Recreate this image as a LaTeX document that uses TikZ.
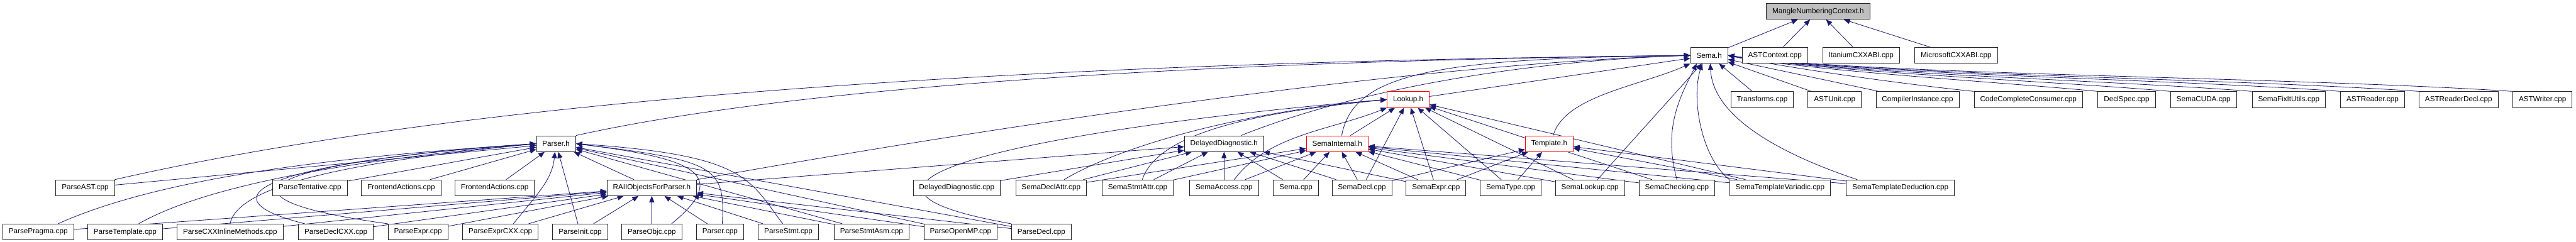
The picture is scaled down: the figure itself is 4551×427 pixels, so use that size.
\documentclass[tikz,border=0pt]{standalone}
\usepackage{fontspec}
\setmainfont{Liberation Sans}
\usetikzlibrary{arrows.meta,backgrounds}
\definecolor{incBlue}{RGB}{25,25,112}
\definecolor{rootGray}{RGB}{191,191,191}

\begin{document}
\begin{tikzpicture}[x=1pt,y=-1pt,
		file/.style={draw=black!85,line width=1pt,fill=white,font=\fontsize{13}{15}\selectfont,inner xsep=10.5pt,inner ysep=0pt,minimum height=28pt},
		redFile/.style={file,draw=red},
		inc/.style={draw=incBlue,line width=0.9pt,-{Triangle[length=11pt,width=9pt]}}]
		\useasboundingbox (0,0) rectangle (4551,427);
		
		% top of the graph
		\node[file,fill=rootGray] (mangle) at (3212,20) {MangleNumberingContext.h};
		\node[file] (semaH) at (3019.5,98) {Sema.h};
		\node[file] (astContext) at (3135.7,98) {ASTContext.cpp};
		\node[file] (itanium) at (3287.9,98) {ItaniumCXXABI.cpp};
		\node[file] (microsoft) at (3455.8,98) {MicrosoftCXXABI.cpp};
		
		% second row
		\node[redFile] (lookupH) at (2487.8,176) {Lookup.h};
		\node[file] (transforms) at (3113.2,176) {Transforms.cpp};
		\node[file] (astUnit) at (3241.2,176) {ASTUnit.cpp};
		\node[file] (compInst) at (3387.7,176) {CompilerInstance.cpp};
		\node[file] (codeCompl) at (3583.5,176) {CodeCompleteConsumer.cpp};
		\node[file] (declSpec) at (3757,176) {DeclSpec.cpp};
		\node[file] (semaCuda) at (3892.9,176) {SemaCUDA.cpp};
		\node[file] (fixIt) at (4043.5,176) {SemaFixItUtils.cpp};
		\node[file] (astReader) at (4191.5,176) {ASTReader.cpp};
		\node[file] (astReaderDecl) at (4343.5,176) {ASTReaderDecl.cpp};
		\node[file] (astWriter) at (4491.7,176) {ASTWriter.cpp};
		
		% headers
		\node[file] (parserH) at (982.4,254) {Parser.h};
		\node[file] (delayedH) at (2162.5,254) {DelayedDiagnostic.h};
		\node[redFile] (semaIntH) at (2362.4,254) {SemaInternal.h};
		\node[redFile] (templateH) at (2737,254) {Template.h};
		
		% fourth row
		\node[file] (parseAst) at (150.5,332) {ParseAST.cpp};
		\node[file] (tentative) at (547.5,332) {ParseTentative.cpp};
		\node[file] (frontA) at (708.8,332) {FrontendActions.cpp};
		\node[file] (frontB) at (874,332) {FrontendActions.cpp};
		\node[file] (raiiH) at (1151.5,332) {RAIIObjectsForParser.h};
		\node[file] (delayedCpp) at (1690.3,332) {DelayedDiagnostic.cpp};
		\node[file] (declAttr) at (1856.9,332) {SemaDeclAttr.cpp};
		\node[file] (stmtAttr) at (2010,332) {SemaStmtAttr.cpp};
		\node[file] (access) at (2162.5,332) {SemaAccess.cpp};
		\node[file] (semaCpp) at (2289.5,332) {Sema.cpp};
		\node[file] (semaDecl) at (2406,332) {SemaDecl.cpp};
		\node[file] (semaExpr) at (2537,332) {SemaExpr.cpp};
		\node[file] (semaType) at (2669,332) {SemaType.cpp};
		\node[file] (semaLookup) at (2809,332) {SemaLookup.cpp};
		\node[file] (checking) at (2962.6,332) {SemaChecking.cpp};
		\node[file] (variadic) at (3144.8,332) {SemaTemplateVariadic.cpp};
		\node[file] (deduction) at (3357.3,332) {SemaTemplateDeduction.cpp};
		
		% bottom row
		\node[file] (pragma) at (67.5,410) {ParsePragma.cpp};
		\node[file] (pTemplate) at (221,410) {ParseTemplate.cpp};
		\node[file] (cxxInline) at (406.5,410) {ParseCXXInlineMethods.cpp};
		\node[file] (declCxx) at (593.5,410) {ParseDeclCXX.cpp};
		\node[file] (pExpr) at (738.4,410) {ParseExpr.cpp};
		\node[file] (exprCxx) at (884,410) {ParseExprCXX.cpp};
		\node[file] (pInit) at (1025,410) {ParseInit.cpp};
		\node[file] (pObjc) at (1151.5,410) {ParseObjc.cpp};
		\node[file] (parserCpp) at (1272,410) {Parser.cpp};
		\node[file] (pStmt) at (1392.8,410) {ParseStmt.cpp};
		\node[file] (stmtAsm) at (1539.8,410) {ParseStmtAsm.cpp};
		\node[file] (openMp) at (1697,410) {ParseOpenMP.cpp};
		\node[file] (pDecl) at (1839.8,410) {ParseDecl.cpp};
		
		\begin{scope}[on background layer]
			% into MangleNumberingContext.h
			\draw[inc] (semaH) -- (mangle);\draw[inc] (astContext) -- (mangle);
			\draw[inc] (itanium) -- (mangle);\draw[inc] (microsoft) -- (mangle);
			
			% into Sema.h
			\draw[inc] (lookupH) -- (semaH);
			\draw[inc] (parserH.north east) .. controls +(450,-100) and +(-700,8) .. (semaH.west);
			\draw[inc] (parseAst.north east) .. controls +(700,-160) and +(-1000,10) .. (semaH.west);
			\draw[inc] (raiiH.north east) .. controls +(500,-90) and +(-500,15) .. (semaH.west);
			\draw[inc] ([xshift=30pt]delayedH.north) .. controls +(200,-80) and +(-300,10) .. (semaH.west);
			\draw[inc] ([xshift=8pt]semaIntH.north) .. controls +(20,-110) and +(-450,5) .. (semaH.west);
			\draw[inc] ([xshift=7pt]templateH.north) .. controls +(20,-70) and +(-90,40) .. (semaH.south west);
			\draw[inc] (semaLookup) -- (semaH);
			\draw[inc] (checking.north) .. controls +(-25,-90) and +(-30,60) .. ([xshift=-22pt]semaH.south);
			\draw[inc] (variadic.north west) .. controls +(-50,-40) and +(-20,60) .. ([xshift=-12pt]semaH.south);
			\draw[inc] ([xshift=-76pt]deduction.north) .. controls +(-120,-40) and +(5,100) .. ([xshift=2pt]semaH.south);
			\draw[inc] (transforms) -- (semaH);\draw[inc] (astUnit) -- (semaH);
			\draw[inc] (compInst) -- (semaH);
			\draw[inc] (codeCompl.north west) .. controls +(-100,-10) and +(120,25) .. (semaH.east);
			\draw[inc] (declSpec.north west) .. controls +(-150,-15) and +(150,28) .. (semaH.east);
			\draw[inc] (semaCuda.north west) .. controls +(-200,-18) and +(180,30) .. (semaH.east);
			\draw[inc] (fixIt.north west) .. controls +(-250,-20) and +(200,32) .. (semaH.east);
			\draw[inc] (astReader.north west) .. controls +(-300,-22) and +(220,33) .. (semaH.east);
			\draw[inc] (astReaderDecl.north west) .. controls +(-350,-24) and +(240,34) .. (semaH.east);
			\draw[inc] (astWriter.north west) .. controls +(-400,-26) and +(260,35) .. (semaH.east);
			
			% into Parser.h
			\draw[inc] (parseAst) -- (parserH);\draw[inc] (tentative) -- (parserH);
			\draw[inc] (frontA) -- (parserH);\draw[inc] (frontB) -- (parserH);
			\draw[inc] (raiiH) -- (parserH);
			\draw[inc] ([xshift=35pt]pragma.north) .. controls +(200,-90) and +(-300,20) .. (parserH.west);
			\draw[inc] ([xshift=24pt]pTemplate.north) .. controls +(140,-80) and +(-250,22) .. (parserH.west);
			\draw[inc] (cxxInline.north) .. controls +(15,-80) and +(-250,25) .. (parserH.west);
			\draw[inc] ([xshift=-55pt]declCxx.north) .. controls +(-200,-50) and +(-450,30) .. (parserH.west);
			\draw[inc] (pExpr.north west) .. controls +(-330,-45) and +(-500,35) .. (parserH.west);
			\draw[inc] ([xshift=23pt]exprCxx.north) .. controls +(40,-50) and +(-5,50) .. ([xshift=-2pt]parserH.south);
			\draw[inc] (pInit) -- (parserH);
			\draw[inc] ([xshift=35pt]pObjc.north) .. controls +(110,-90) and +(200,25) .. (parserH.east);
			\draw[inc] ([xshift=4pt]parserCpp.north) .. controls +(5,-100) and +(250,30) .. (parserH.east);
			\draw[inc] ([xshift=-10pt]pStmt.north) .. controls +(-60,-80) and +(300,20) .. (parserH.east);
			\draw[inc] (stmtAsm) -- (parserH);\draw[inc] (openMp) -- (parserH);
			\draw[inc] (pDecl) -- (parserH);
			
			% into RAIIObjectsForParser.h
			\draw[inc] (pragma) -- (raiiH);\draw[inc] (pTemplate) -- (raiiH);
			\draw[inc] (cxxInline) -- (raiiH);\draw[inc] (declCxx) -- (raiiH);
			\draw[inc] (pExpr) -- (raiiH);\draw[inc] (exprCxx) -- (raiiH);
			\draw[inc] (pInit) -- (raiiH);\draw[inc] (pObjc) -- (raiiH);
			\draw[inc] (parserCpp) -- (raiiH);\draw[inc] (pStmt) -- (raiiH);
			\draw[inc] (stmtAsm) -- (raiiH);\draw[inc] (openMp) -- (raiiH);
			\draw[inc] (pDecl) -- (raiiH);
			
			% into Lookup.h
			\draw[inc] (pDecl.north west) .. controls +(-450,-80) and +(-500,40) .. (lookupH.west);
			\draw[inc] ([xshift=23pt]declAttr.north) .. controls +(100,-60) and +(-250,20) .. (lookupH.west);
			\draw[inc] ([xshift=8pt]stmtAttr.north) .. controls +(30,-90) and +(-200,20) .. (lookupH.west);
			\draw[inc] ([xshift=18pt]access.north) .. controls +(60,-80) and +(-100,40) .. (lookupH.south west);
			\draw[inc] (semaIntH) -- (lookupH);\draw[inc] (semaDecl) -- (lookupH);
			\draw[inc] (semaExpr) -- (lookupH);\draw[inc] (semaType) -- (lookupH);
			\draw[inc] (semaLookup) -- (lookupH);\draw[inc] (checking) -- (lookupH);
			\draw[inc] (variadic) -- (lookupH);
			
			% into DelayedDiagnostic.h
			\draw[inc] (delayedCpp) -- (delayedH);\draw[inc] (raiiH) -- (delayedH);
			\draw[inc] (declAttr) -- (delayedH);\draw[inc] (stmtAttr) -- (delayedH);
			\draw[inc] (access) -- (delayedH);\draw[inc] (semaCpp) -- (delayedH);
			\draw[inc] (semaDecl) -- (delayedH);\draw[inc] (semaExpr) -- (delayedH);
			
			% into SemaInternal.h
			\draw[inc] (declAttr) -- (semaIntH);\draw[inc] (stmtAttr) -- (semaIntH);
			\draw[inc] (access) -- (semaIntH);\draw[inc] (semaCpp) -- (semaIntH);
			\draw[inc] (semaDecl) -- (semaIntH);\draw[inc] (semaExpr) -- (semaIntH);
			\draw[inc] (semaType) -- (semaIntH);\draw[inc] (semaLookup) -- (semaIntH);
			\draw[inc] (checking) -- (semaIntH);\draw[inc] (variadic) -- (semaIntH);
			\draw[inc] (deduction) -- (semaIntH);
			
			% into Template.h
			\draw[inc] (semaDecl) -- (templateH);\draw[inc] (semaExpr) -- (templateH);
			\draw[inc] (semaType) -- (templateH);\draw[inc] (variadic) -- (templateH);
			\draw[inc] (deduction) -- (templateH);
		\end{scope}
\end{tikzpicture}
\end{document}
